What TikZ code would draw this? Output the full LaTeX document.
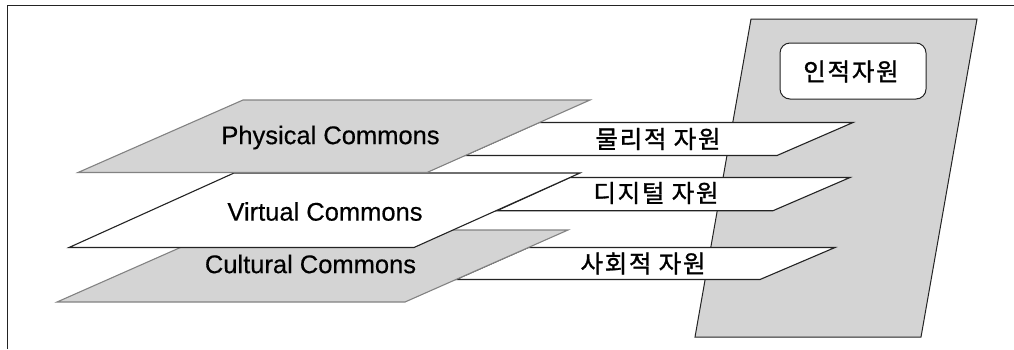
\documentclass[tikz,border=0pt]{standalone}
\usepackage{fontspec}
\setmainfont{Liberation Sans}
\newfontfamily\krfont[LetterSpace=7,FakeBold=1.2]{Noto Sans CJK KR}
\newfontfamily\enfont[FakeBold=0.4]{Liberation Sans}
\definecolor{planegray}{RGB}{212,212,212}
\definecolor{edgegray}{RGB}{130,130,130}
\definecolor{edgedark}{RGB}{35,35,35}
\begin{document}
\begin{tikzpicture}[x=1pt,y=-1pt,
  grayplane/.style={fill=planegray,draw=edgegray,line width=1.1pt,line join=miter},
  whiteplane/.style={fill=white,draw=edgedark,line width=1.1pt},
  strip/.style={fill=white,draw=edgedark,line width=1.1pt},
  tallshape/.style={fill=planegray,draw=edgedark,line width=1.0pt},
  humanbox/.style={fill=white,draw=edgedark,line width=1.0pt,rounded corners=10pt},
  entext/.style={font=\enfont\fontsize{25.5}{28}\selectfont,inner sep=0pt},
  krtext/.style={font=\krfont\fontsize{24.5}{28}\selectfont,inner sep=0pt},
  frameline/.style={draw=edgedark,line width=0.9pt}]
\useasboundingbox (0,0) rectangle (1014,349);
% frame
\coordinate (fa) at (7.3,349);
\coordinate (fb) at (7.3,5.3);
\coordinate (fc) at (1014,5.3);
\draw[frameline] (fa) -- (fb) -- (fc);
% tall human-resource shape
\draw[tallshape] (751,19) -- (977,19) -- (921,337) -- (695,337) -- cycle;
\draw[humanbox] (780,43) rectangle (926,99);
\node[krtext] (human) at (851,71.5) {인적자원};
% strips
\draw[strip] (539,122.5) -- (853,122.5) -- (777,155.5) -- (465,155.5) -- cycle;
\draw[strip] (570,177.5) -- (850,177.5) -- (773,210.7) -- (497,210.7) -- cycle;
\draw[strip] (528.4,247.5) -- (835,247.5) -- (760,279.5) -- (456,279.5) -- cycle;
\node[krtext] (phys-kr) at (658,139) {물리적 자원};
\node[krtext] (virt-kr) at (656,193) {디지털 자원};
\node[krtext] (cult-kr) at (643,263.5) {사회적 자원};
% planes
\draw[grayplane] (220,230) -- (568,230) -- (405,302) -- (57,302) -- cycle;
\draw[whiteplane] (234,173) -- (580,173) -- (414,247.5) -- (69,247.5) -- cycle;
\draw[grayplane] (243,100) -- (590,100) -- (427,172.5) -- (78,172.5) -- cycle;
\node[entext] (phys) at (330.5,137.5) {Physical Commons};
\node[entext] (virt) at (325,211.5) {Virtual Commons};
\node[entext] (cult) at (310.5,264) {Cultural Commons};
\end{tikzpicture}
\end{document}
